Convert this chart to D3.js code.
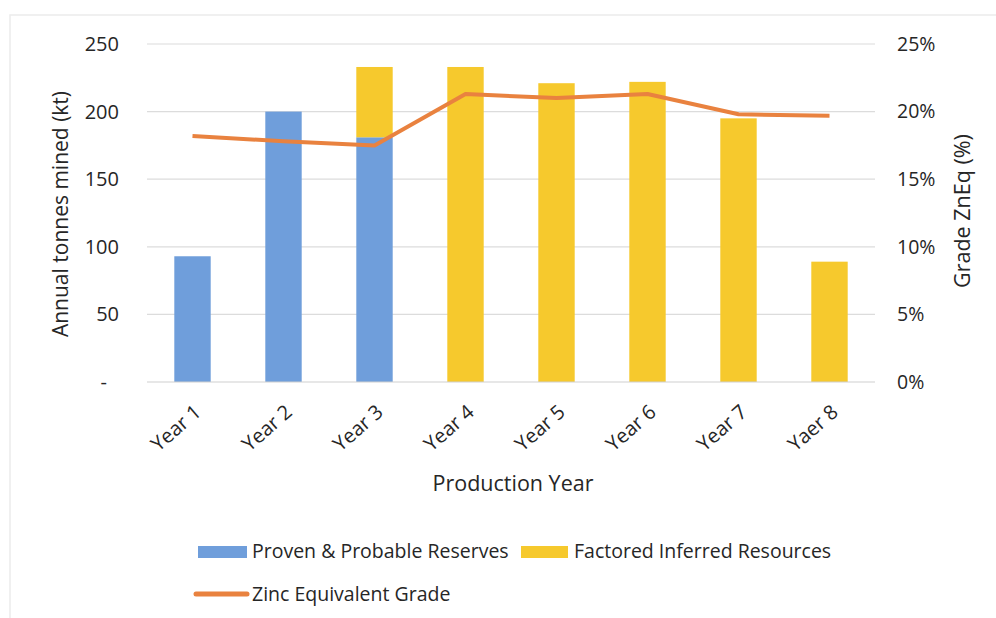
<!DOCTYPE html>
<html><head><meta charset="utf-8">
<script src="https://cdn.jsdelivr.net/npm/d3@7"></script>
<style>body{margin:0;background:#fff;} svg{display:block;} text{font-family:"Open Sans",sans-serif;fill:#262626;}</style>
</head><body><svg id="c" width="996" height="618"></svg>
<script>
const categories = ["Year 1","Year 2","Year 3","Year 4","Year 5","Year 6","Year 7","Yaer 8"];
const provenReserves = [93, 200, 181, 0, 0, 0, 0, 0];
const inferredResources = [0, 0, 52, 233, 221, 222, 195, 89];
const znEqGrade = [0.182, 0.178, 0.175, 0.213, 0.210, 0.213, 0.198, 0.197];
const leftTicks = [0, 50, 100, 150, 200, 250];
const rightTicks = [0, 0.05, 0.10, 0.15, 0.20, 0.25];

const svg = d3.select("#c");
const m = {l:147, r:875, t:44, b:382};
svg.append("rect").attr("x",10).attr("y",15).attr("width",1000).attr("height",620)
  .attr("fill","none").attr("stroke","#ececec").attr("stroke-width",1.5);

const x = d3.scaleBand().domain(categories).range([m.l, m.r]).paddingInner(0.6).paddingOuter(0.3);
const y = d3.scaleLinear().domain([0,250]).range([m.b, m.t]);
const y2 = d3.scaleLinear().domain([0,0.25]).range([m.b, m.t]);

svg.append("g").selectAll("line").data(leftTicks.slice(1)).join("line")
  .attr("x1",m.l).attr("x2",m.r).attr("y1",d=>y(d)).attr("y2",d=>y(d))
  .attr("stroke","#dcdcdc").attr("stroke-width",1.2);

const stackData = categories.map((c,i)=>({cat:c, a:provenReserves[i], b:inferredResources[i]}));
const g = svg.append("g");
g.selectAll("rect.a").data(stackData.filter(d=>d.a>0)).join("rect")
  .attr("x",d=>x(d.cat)).attr("width",x.bandwidth())
  .attr("y",d=>y(d.a)).attr("height",d=>y(0)-y(d.a)).attr("fill","#6f9edb");
g.selectAll("rect.b").data(stackData.filter(d=>d.b>0)).join("rect")
  .attr("x",d=>x(d.cat)).attr("width",x.bandwidth())
  .attr("y",d=>y(d.a+d.b)).attr("height",d=>y(d.a)-y(d.a+d.b)).attr("fill","#f6c92d");

svg.append("line").attr("x1",m.l).attr("x2",m.r).attr("y1",y(0)).attr("y2",y(0))
  .attr("stroke","#cfcfcf").attr("stroke-width",1.2);

const line = d3.line().x((d,i)=>x(categories[i])+x.bandwidth()/2).y(d=>y2(d));
svg.append("path").datum(znEqGrade).attr("d",line).attr("fill","none")
  .attr("stroke","#e9823f").attr("stroke-width",4).attr("stroke-linejoin","round");

const ff = "'Open Sans',sans-serif";
const la = svg.append("g").attr("transform",`translate(${m.l},0)`)
  .call(d3.axisLeft(y).tickValues(leftTicks).tickSize(0).tickPadding(28).tickFormat(d=>d===0?"-":d));
la.select(".domain").remove();
la.selectAll("text").style("font-size","20px").style("fill","#262626").style("font-family",ff);
la.selectAll("text").filter(d=>d===0).attr("dx",-12);

const ra = svg.append("g").attr("transform",`translate(${m.r},0)`)
  .call(d3.axisRight(y2).tickValues(rightTicks).tickSize(0).tickPadding(22).tickFormat(d3.format(".0%")));
ra.select(".domain").remove();
ra.selectAll("text").style("font-size","19.5px").style("fill","#262626").style("font-family",ff);

const xa = svg.append("g").attr("transform",`translate(0,${m.b})`)
  .call(d3.axisBottom(x).tickSize(0).tickPadding(0));
xa.select(".domain").remove();
xa.selectAll("text").style("font-size","20px").style("fill","#262626").style("font-family",ff)
  .attr("text-anchor","end").attr("dy",0)
  .attr("transform","translate(10,32) rotate(-41)");

svg.append("text").attr("x",513).attr("y",491).attr("text-anchor","middle").style("font-size","21.5px").text("Production Year");
svg.append("text").attr("transform","translate(68,214) rotate(-90)").attr("text-anchor","middle").style("font-size","21px").text("Annual tonnes mined (kt)");
svg.append("text").attr("transform","translate(970,211) rotate(-90)").attr("text-anchor","middle").style("font-size","21.5px").text("Grade ZnEq (%)");

const lg = svg.append("g");
lg.append("rect").attr("x",198).attr("y",546).attr("width",49).attr("height",12).attr("fill","#6f9edb");
lg.append("text").attr("x",252).attr("y",558).style("font-size","19.5px").text("Proven & Probable Reserves");
lg.append("rect").attr("x",521).attr("y",546).attr("width",47).attr("height",12).attr("fill","#f6c92d");
lg.append("text").attr("x",574).attr("y",558).style("font-size","19.5px").text("Factored Inferred Resources");
lg.append("line").attr("x1",196).attr("x2",247).attr("y1",594).attr("y2",594).attr("stroke","#e9823f").attr("stroke-width",5).attr("stroke-linecap","round");
lg.append("text").attr("x",252).attr("y",601).style("font-size","19.5px").text("Zinc Equivalent Grade");
</script></body></html>
